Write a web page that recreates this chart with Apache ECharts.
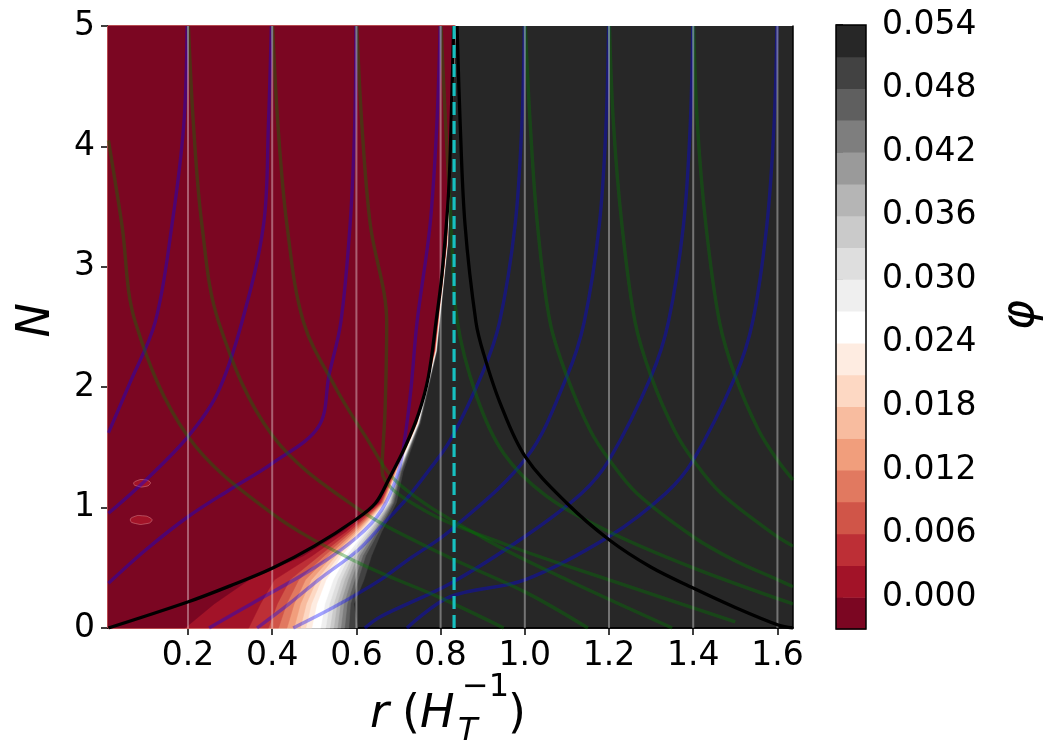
<!DOCTYPE html>
<html><head><meta charset="utf-8">
<script src="https://cdn.jsdelivr.net/npm/echarts@6/dist/echarts.min.js"></script>
<style>html,body{margin:0;padding:0;background:#fff}#c{width:1046px;height:748px}</style>
</head><body><div id="c"></div>
<script>
// ---------- data ----------
const xTicks = [0.2, 0.4, 0.6, 0.8, 1.0, 1.2, 1.4, 1.6];
const yTicks = [0, 1, 2, 3, 4, 5];
const cbTicks = [0, 0.006, 0.012, 0.018, 0.024, 0.030, 0.036, 0.042, 0.048, 0.054];
const cbLevels = [-0.003, 0, 0.003, 0.006, 0.009, 0.012, 0.015, 0.018, 0.021, 0.024, 0.027, 0.030, 0.033, 0.036, 0.039, 0.042, 0.045, 0.048, 0.051, 0.054];
const bandColors = ['#7b0622', '#a21328', '#bd2f36', '#d05548', '#e17960', '#f19e7c', '#f8bc9f', '#fdd8c3', '#feece1', '#ffffff',
  '#efefef', '#dedede', '#cacaca', '#b5b5b5', '#9a9a9a', '#7e7e7e', '#5f5f5f', '#424242', '#272727'];
// contour boundaries (r positions) of each level 0.000 ... 0.051, read row by row at these N
const contourN = [0, 0.2, 0.4, 0.6, 0.8, 1.04, 1.3, 1.7, 2.3, 3.2, 5.0];
const contourRows = [
  [0.193, 0.344, 0.391, 0.415, 0.435, 0.452, 0.467, 0.480, 0.494, 0.515, 0.527, 0.537, 0.546, 0.555, 0.563, 0.572, 0.582, 0.603],
  [0.262, 0.372, 0.412, 0.434, 0.452, 0.467, 0.481, 0.493, 0.506, 0.525, 0.536, 0.546, 0.554, 0.562, 0.570, 0.578, 0.586, 0.594],
  [0.345, 0.405, 0.442, 0.463, 0.479, 0.493, 0.506, 0.517, 0.528, 0.545, 0.555, 0.564, 0.572, 0.580, 0.588, 0.596, 0.604, 0.618],
  [0.474, 0.495, 0.512, 0.524, 0.534, 0.543, 0.551, 0.558, 0.565, 0.576, 0.583, 0.590, 0.596, 0.602, 0.608, 0.615, 0.622, 0.636],
  [0.566, 0.575, 0.583, 0.589, 0.595, 0.600, 0.605, 0.609, 0.613, 0.620, 0.625, 0.630, 0.634, 0.639, 0.643, 0.648, 0.653, 0.660],
  [0.652, 0.655, 0.658, 0.660, 0.662, 0.664, 0.666, 0.668, 0.670, 0.673, 0.675, 0.677, 0.679, 0.681, 0.683, 0.686, 0.689, 0.695],
  [0.688, 0.689, 0.690, 0.691, 0.692, 0.693, 0.694, 0.695, 0.696, 0.698, 0.699, 0.700, 0.701, 0.702, 0.703, 0.705, 0.707, 0.711],
  [0.741, 0.7415, 0.742, 0.7425, 0.743, 0.7435, 0.744, 0.7445, 0.745, 0.746, 0.7465, 0.747, 0.7475, 0.748, 0.7485, 0.749, 0.750, 0.752],
  [0.784, 0.7845, 0.785, 0.7855, 0.786, 0.7865, 0.787, 0.7873, 0.7876, 0.788, 0.7883, 0.7886, 0.789, 0.7893, 0.7896, 0.790, 0.7905, 0.791],
  [0.8135, 0.8137, 0.8139, 0.8141, 0.8143, 0.8145, 0.8147, 0.8149, 0.8151, 0.8153, 0.8155, 0.8157, 0.8159, 0.8161, 0.8164, 0.8167, 0.817, 0.8175],
  [0.8335, 0.8336, 0.8337, 0.8338, 0.8339, 0.834, 0.8341, 0.8342, 0.8343, 0.8344, 0.8345, 0.8346, 0.8347, 0.8348, 0.835, 0.8352, 0.8355, 0.836]
];
const blobA = [[0.071, 1.20], [0.080, 1.225], [0.095, 1.232], [0.108, 1.218], [0.110, 1.197], [0.098, 1.175], [0.080, 1.178]];
const blobB = [[0.063, 0.895], [0.072, 0.925], [0.092, 0.932], [0.110, 0.915], [0.114, 0.890], [0.100, 0.866], [0.075, 0.868]];
const blackLeft = [[0.011, 0], [0.201, 0.218], [0.30, 0.35], [0.40, 0.496], [0.50, 0.68], [0.597, 0.897], [0.645, 1.036], [0.676, 1.229], [0.716, 1.506], [0.748, 1.783], [0.771, 2.087], [0.789, 2.54], [0.803, 2.93], [0.819, 3.62], [0.827, 4.45], [0.831, 5.0]];
const blackRight = [[0.839, 5.0], [0.8466, 4.18], [0.858, 3.35], [0.884, 2.54], [0.902, 2.28], [0.9416, 1.866], [1.001, 1.423], [1.100, 1.036], [1.201, 0.731], [1.298, 0.509], [1.401, 0.330], [1.496, 0.177], [1.602, 0.025], [1.637, 0]];
const cyanR = 0.832;
const blueCurves = [
  [[0.011, 1.62], [0.06, 2.02], [0.122, 2.54], [0.162, 3.35], [0.19, 4.18], [0.198, 5]],
  [[0.011, 0.953], [0.1, 1.23], [0.2, 1.59], [0.27, 1.95], [0.328, 2.54], [0.3795, 3.35], [0.391, 4.18], [0.398, 5]],
  [[0.011, 0.371], [0.1, 0.65], [0.2, 0.924], [0.3, 1.15], [0.4, 1.368], [0.51, 1.672], [0.535, 2.1], [0.563, 2.54], [0.585, 3.35], [0.596, 4.18], [0.599, 5]],
  [[0.25, 0], [0.35, 0.2], [0.5, 0.5], [0.6, 0.75], [0.66, 0.98], [0.70, 1.3], [0.716, 1.6], [0.73, 2.0], [0.744, 2.54], [0.775, 3.35], [0.791, 4.18], [0.799, 5]],
  [[0.364, 0], [0.44, 0.2], [0.51, 0.40], [0.605, 0.65], [0.657, 0.84], [0.716, 1.06], [0.77, 1.3], [0.823, 1.56], [0.902, 2.14], [0.94, 2.54], [0.977, 3.35], [0.993, 4.18], [0.999, 5]],
  [[0.45, 0], [0.55, 0.18], [0.657, 0.40], [0.72, 0.56], [0.823, 0.81], [1.005, 1.42], [1.1, 2.09], [1.141, 2.54], [1.177, 3.35], [1.193, 4.18], [1.199, 5]],
  [[0.62, 0], [0.657, 0.094], [0.823, 0.37], [1.0, 0.76], [1.135, 1.12], [1.2, 1.395], [1.3, 2.09], [1.341, 2.54], [1.377, 3.35], [1.393, 4.18], [1.399, 5]],
  [[0.72, 0], [0.823, 0.26], [1.0, 0.4], [1.2, 0.76], [1.335, 1.12], [1.4, 1.395], [1.5, 2.09], [1.541, 2.54], [1.575, 3.35], [1.592, 4.18], [1.599, 5]]
];
const greenCurves = [
  [[0.011, 4.05], [0.043, 3.35], [0.075, 2.54], [0.2, 1.59], [0.4, 0.95], [0.6, 0.55], [0.8, 0.25], [0.95, 0]],
  [[0.201, 5], [0.213, 4.18], [0.233, 3.35], [0.273, 2.54], [0.4, 1.6], [0.6, 1.0], [0.8, 0.62], [1.0, 0.3], [1.15, 0]],
  [[0.401, 5], [0.4136, 4.18], [0.435, 3.35], [0.4745, 2.54], [0.55, 2.0], [0.62, 1.6], [0.7, 1.2], [0.9, 0.75], [1.1, 0.4], [1.35, 0]],
  [[0.601, 5], [0.613, 4.18], [0.633, 3.35], [0.672, 2.54], [0.668, 1.8], [0.661, 1.31], [0.75, 1.0], [0.95, 0.7], [1.2, 0.4], [1.5, 0.05]],
  [[0.801, 5], [0.812, 4.18], [0.825, 3.35], [0.839, 2.56], [0.886, 1.92], [0.95, 1.45], [1.05, 1.1], [1.2, 0.8], [1.4, 0.5], [1.637, 0.2]],
  [[1.001, 5], [1.013, 4.18], [1.030, 3.35], [1.060, 2.54], [1.1, 2.09], [1.155, 1.645], [1.201, 1.395], [1.266, 1.119], [1.4, 0.758], [1.496, 0.565], [1.602, 0.399], [1.637, 0.343]],
  [[1.201, 5], [1.2107, 4.18], [1.2306, 3.35], [1.262, 2.54], [1.3, 2.09], [1.355, 1.645], [1.4, 1.395], [1.466, 1.119], [1.6, 0.758], [1.637, 0.68]],
  [[1.401, 5], [1.41, 4.18], [1.43, 3.35], [1.4625, 2.54], [1.5, 2.09], [1.555, 1.645], [1.6, 1.395], [1.637, 1.23]]
];
const xMin = 0.01, xMax = 1.637, yMin = 0, yMax = 5;

// ---------- chart ----------
const chart = echarts.init(document.getElementById('c'));
const FONT = 'DejaVu Sans';
const series = [];

series.push({
  type: 'custom', xAxisIndex: 0, yAxisIndex: 0, z: 1, silent: true,
  data: contourRows[0].map((_, b) => contourRows[0].length - 1 - b),
  renderItem: function (params, api) {
    const b = api.value(0);
    const pts = [api.coord([xMin, yMin])];
    for (let j = 0; j < contourN.length; j++) pts.push(api.coord([contourRows[j][b], contourN[j]]));
    pts.push(api.coord([xMin, yMax]));
    return { type: 'polygon', shape: { points: pts }, style: { fill: bandColors[b], stroke: bandColors[b], lineWidth: 0.5 } };
  }
});
series.push({
  type: 'custom', xAxisIndex: 0, yAxisIndex: 0, z: 2, silent: true,
  data: [0, 1],
  renderItem: function (params, api) {
    const src = api.value(0) === 0 ? blobA : blobB;
    return { type: 'polygon', shape: { points: src.map(p => api.coord(p)), smooth: 0.6 }, style: { fill: bandColors[1], stroke: 'rgba(255,190,190,0.6)', lineWidth: 0.6 } };
  }
});
function line(data, color, width, z, dash) {
  return { type: 'line', xAxisIndex: 0, yAxisIndex: 0, data: data, showSymbol: false, symbol: 'none', smooth: 0.35, z: z, silent: true,
    lineStyle: { color: color, width: width, type: dash || 'solid' }, clip: true };
}
blueCurves.forEach(c => series.push(line(c, 'rgba(0,0,255,0.36)', 3.4, 3)));
greenCurves.forEach(c => series.push(line(c, 'rgba(0,128,0,0.36)', 3.4, 3)));
xTicks.forEach(x => series.push(Object.assign(line([[x, 0], [x, 5]], 'rgba(255,255,255,0.36)', 2, 4), { smooth: false })));
series.push(line(blackLeft, '#000', 3.3, 5));
series.push(line(blackRight, '#000', 3.3, 5));
series.push(Object.assign(line([[cyanR, 0], [cyanR, 5]], '#17c0c0', 3.2, 6, [13, 6]), { smooth: false }));

series.push({
  type: 'custom', xAxisIndex: 2, yAxisIndex: 2, z: 1, silent: true,
  data: bandColors.map((_, i) => i).concat([-1]),
  renderItem: function (params, api) {
    const i = api.value(0);
    if (i < 0) {
      const p0 = api.coord([0, cbLevels[cbLevels.length - 1]]);
      const p1 = api.coord([1, cbLevels[0]]);
      return { type: 'rect', shape: { x: p0[0], y: p0[1], width: p1[0] - p0[0], height: p1[1] - p0[1] }, style: { fill: 'none', stroke: '#000', lineWidth: 1.5 }, z2: 10 };
    }
    const a = api.coord([0, cbLevels[i + 1]]);
    const b = api.coord([1, cbLevels[i]]);
    return { type: 'rect', shape: { x: a[0], y: a[1], width: b[0] - a[0], height: b[1] - a[1] + 0.5 }, style: { fill: bandColors[i] } };
  }
});

const axisLine = { show: true, lineStyle: { color: '#000', width: 1.5 } };
const labelStyle = { color: '#000', fontSize: 33, fontFamily: FONT };
chart.setOption({
  animation: false,
  backgroundColor: '#fff',
  grid: [
    { left: 108, top: 26, width: 685, height: 602, show: true, backgroundColor: '#272727', borderWidth: 0 },
    { left: 836, top: 25, width: 30, height: 604 }
  ],
  xAxis: [
    { type: 'value', gridIndex: 0, min: xMin, max: xMax, position: 'bottom', axisLine: axisLine, splitLine: { show: false },
      axisTick: { show: true, customValues: xTicks, length: 7, lineStyle: { color: '#000', width: 1.5 } },
      axisLabel: Object.assign({ customValues: xTicks, margin: 12, formatter: v => v.toFixed(1) }, labelStyle) },
    { type: 'value', gridIndex: 0, min: xMin, max: xMax, position: 'top', axisLine: axisLine, splitLine: { show: false }, axisTick: { show: false }, axisLabel: { show: false } },
    { type: 'value', gridIndex: 1, min: 0, max: 1, show: false }
  ],
  yAxis: [
    { type: 'value', gridIndex: 0, min: yMin, max: yMax, interval: 1, position: 'left', axisLine: axisLine, splitLine: { show: false },
      axisTick: { show: true, length: 7, lineStyle: { color: '#000', width: 1.5 } },
      axisLabel: Object.assign({ margin: 13, formatter: v => String(v) }, labelStyle) },
    { type: 'value', gridIndex: 0, min: yMin, max: yMax, position: 'right', axisLine: axisLine, splitLine: { show: false }, axisTick: { show: false }, axisLabel: { show: false } },
    { type: 'value', gridIndex: 1, min: cbLevels[0], max: cbLevels[cbLevels.length - 1], position: 'right', axisLine: { show: false }, splitLine: { show: false },
      axisTick: { show: true, customValues: cbTicks, length: 7, lineStyle: { color: '#000', width: 1.5 } },
      axisLabel: Object.assign({ customValues: cbTicks, margin: 16, formatter: v => v.toFixed(3) }, labelStyle) }
  ],
  series: series,
  graphic: [
    { type: 'text', left: 14, top: 303, rotation: Math.PI / 2, style: { text: 'N', font: 'italic 46px "DejaVu Sans"', fill: '#000' } },
    { type: 'text', left: 998, top: 300, rotation: Math.PI / 2, style: { text: 'φ', font: 'italic 46px "DejaVu Sans"', fill: '#000' } },
    { type: 'text', left: 370, top: 692, style: { text: 'r', font: 'italic 46px "DejaVu Sans"', fill: '#000' } },
    { type: 'text', left: 402, top: 692, style: { text: '(', font: '46px "DejaVu Sans"', fill: '#000' } },
    { type: 'text', left: 420, top: 692, style: { text: 'H', font: 'italic 46px "DejaVu Sans"', fill: '#000' } },
    { type: 'text', left: 462, top: 672, style: { text: '\u22121', font: '32px "DejaVu Sans"', fill: '#000' } },
    { type: 'text', left: 458, top: 716, style: { text: 'T', font: 'italic 32px "DejaVu Sans"', fill: '#000' } },
    { type: 'text', left: 508, top: 692, style: { text: ')', font: '46px "DejaVu Sans"', fill: '#000' } }
  ]
});
</script>
</body></html>
